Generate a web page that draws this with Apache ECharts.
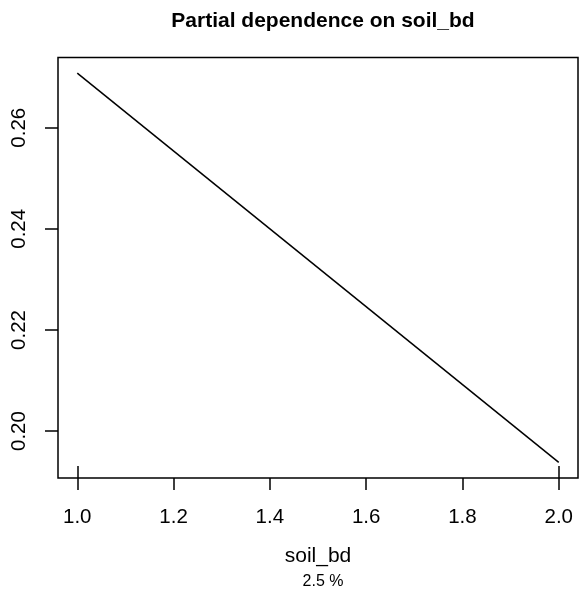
<!DOCTYPE html>
<html>
<head>
<meta charset="utf-8">
<script src="https://cdn.jsdelivr.net/npm/echarts@6/dist/echarts.min.js"></script>
<style>
  html, body { margin: 0; padding: 0; background: #fff; }
  #chart { width: 583px; height: 595px; }
</style>
</head>
<body>
<div id="chart"></div>
<script>
// partial dependence curve
const soilBd = [1.0, 2.0]
const yhat = [0.2708, 0.1938]
const rugValues = [1.0, 2.0]
const xTicks = [1.0, 1.2, 1.4, 1.6, 1.8, 2.0]
const yTicks = [0.20, 0.22, 0.24, 0.26]

const FONT = '"Liberation Sans", Arial, Helvetica, sans-serif'

// R style axis ranges: data range + 4% on each side
function rRange(vals) {
  const lo = Math.min(...vals), hi = Math.max(...vals)
  const pad = (hi - lo) * 0.04
  return [lo - pad, hi + pad]
}
const [xMin, xMax] = rRange(soilBd)
const [yMin, yMax] = rRange(yhat)

const chart = echarts.init(document.getElementById('chart'), null, { renderer: 'canvas' })

chart.setOption({
  animation: false,
  backgroundColor: '#fff',
  title: [
    {
      text: 'Partial dependence on soil_bd',
      left: 318,
      textAlign: 'center',
      top: 6,
      textStyle: { fontFamily: FONT, fontSize: 21, fontWeight: 'bold', color: '#000' },
    },
    {
      text: '2.5 %',
      left: 318,
      textAlign: 'center',
      top: 569,
      textStyle: { fontFamily: FONT, fontSize: 16, fontWeight: 'normal', color: '#000' },
    },
  ],
  grid: {
    left: 58,
    right: 5,
    top: 57.5,
    bottom: 117,
    show: true,
    borderColor: '#000',
    borderWidth: 1.5,
    backgroundColor: 'transparent',
  },
  xAxis: [
    {
      type: 'value',
      min: xMin,
      max: xMax,
      name: 'soil_bd',
      nameLocation: 'middle',
      nameGap: 68,
      nameTextStyle: { fontFamily: FONT, fontSize: 21, color: '#000' },
      axisLine: { show: false },
      splitLine: { show: false },
      axisTick: {
        show: true,
        inside: false,
        length: 12,
        customValues: xTicks,
        lineStyle: { color: '#000', width: 1.5 },
      },
      axisLabel: {
        customValues: xTicks,
        margin: 29,
        fontFamily: FONT,
        fontSize: 20.5,
        color: '#000',
        formatter: (v) => v.toFixed(1),
      },
    },
    // rug
    {
      type: 'value',
      min: xMin,
      max: xMax,
      position: 'bottom',
      axisLine: { show: false },
      splitLine: { show: false },
      axisLabel: { show: false },
      axisTick: {
        show: true,
        inside: true,
        length: 12,
        customValues: rugValues,
        lineStyle: { color: '#000', width: 1.5 },
      },
    },
  ],
  yAxis: {
    type: 'value',
    min: yMin,
    max: yMax,
    axisLine: { show: false },
    splitLine: { show: false },
    axisTick: {
      show: true,
      inside: false,
      length: 13,
      customValues: yTicks,
      lineStyle: { color: '#000', width: 1.5 },
    },
    axisLabel: {
      customValues: yTicks,
      rotate: 90,
      margin: 28,
      fontFamily: FONT,
      fontSize: 20.5,
      color: '#000',
      formatter: (v) => v.toFixed(2),
    },
  },
  series: [
    {
      type: 'line',
      xAxisIndex: 0,
      yAxisIndex: 0,
      data: soilBd.map((x, i) => [x, yhat[i]]),
      symbol: 'none',
      lineStyle: { color: '#000', width: 1.5 },
      silent: true,
    },
  ],
})
</script>
</body>
</html>
